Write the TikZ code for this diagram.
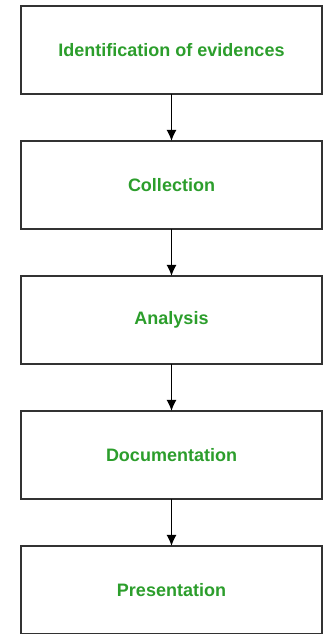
\documentclass[tikz,border=0pt]{standalone}
\usepackage{fontspec}
\setmainfont{Liberation Sans}
\usepackage{tikz}
\usetikzlibrary{positioning}
\usetikzlibrary{arrows.meta}

\definecolor{stagegreen}{RGB}{44,158,44}
\definecolor{edgegray}{RGB}{50,50,50}

\begin{document}
\begin{tikzpicture}[x=1pt,y=1pt,
        stage/.style={draw=edgegray,line width=1.8pt,fill=white,outer sep=0pt,
            minimum width=301pt,minimum height=88pt,
            font=\fontsize{18}{21}\selectfont\bfseries,text=stagegreen},
        flow/.style={-{Latex[length=11pt,width=10pt]},line width=1.6pt}]
        \useasboundingbox (0,0) rectangle (328,634);
        \node [stage] (ident) at (171.5,584) {Identification of evidences};
        \node [stage,below=47pt of ident] (coll) {Collection};
        \node [stage,below=47pt of coll] (anal) {Analysis};
        \node [stage,below=47pt of anal] (docu) {Documentation};
        \node [stage,below=47pt of docu] (pres) {Presentation};
        \draw[flow] (ident.south) -- (coll.north);
        \draw[flow] (coll.south) -- (anal.north);
        \draw[flow] (anal.south) -- (docu.north);
        \draw[flow] (docu.south) -- (pres.north);
    \end{tikzpicture}
\end{document}
